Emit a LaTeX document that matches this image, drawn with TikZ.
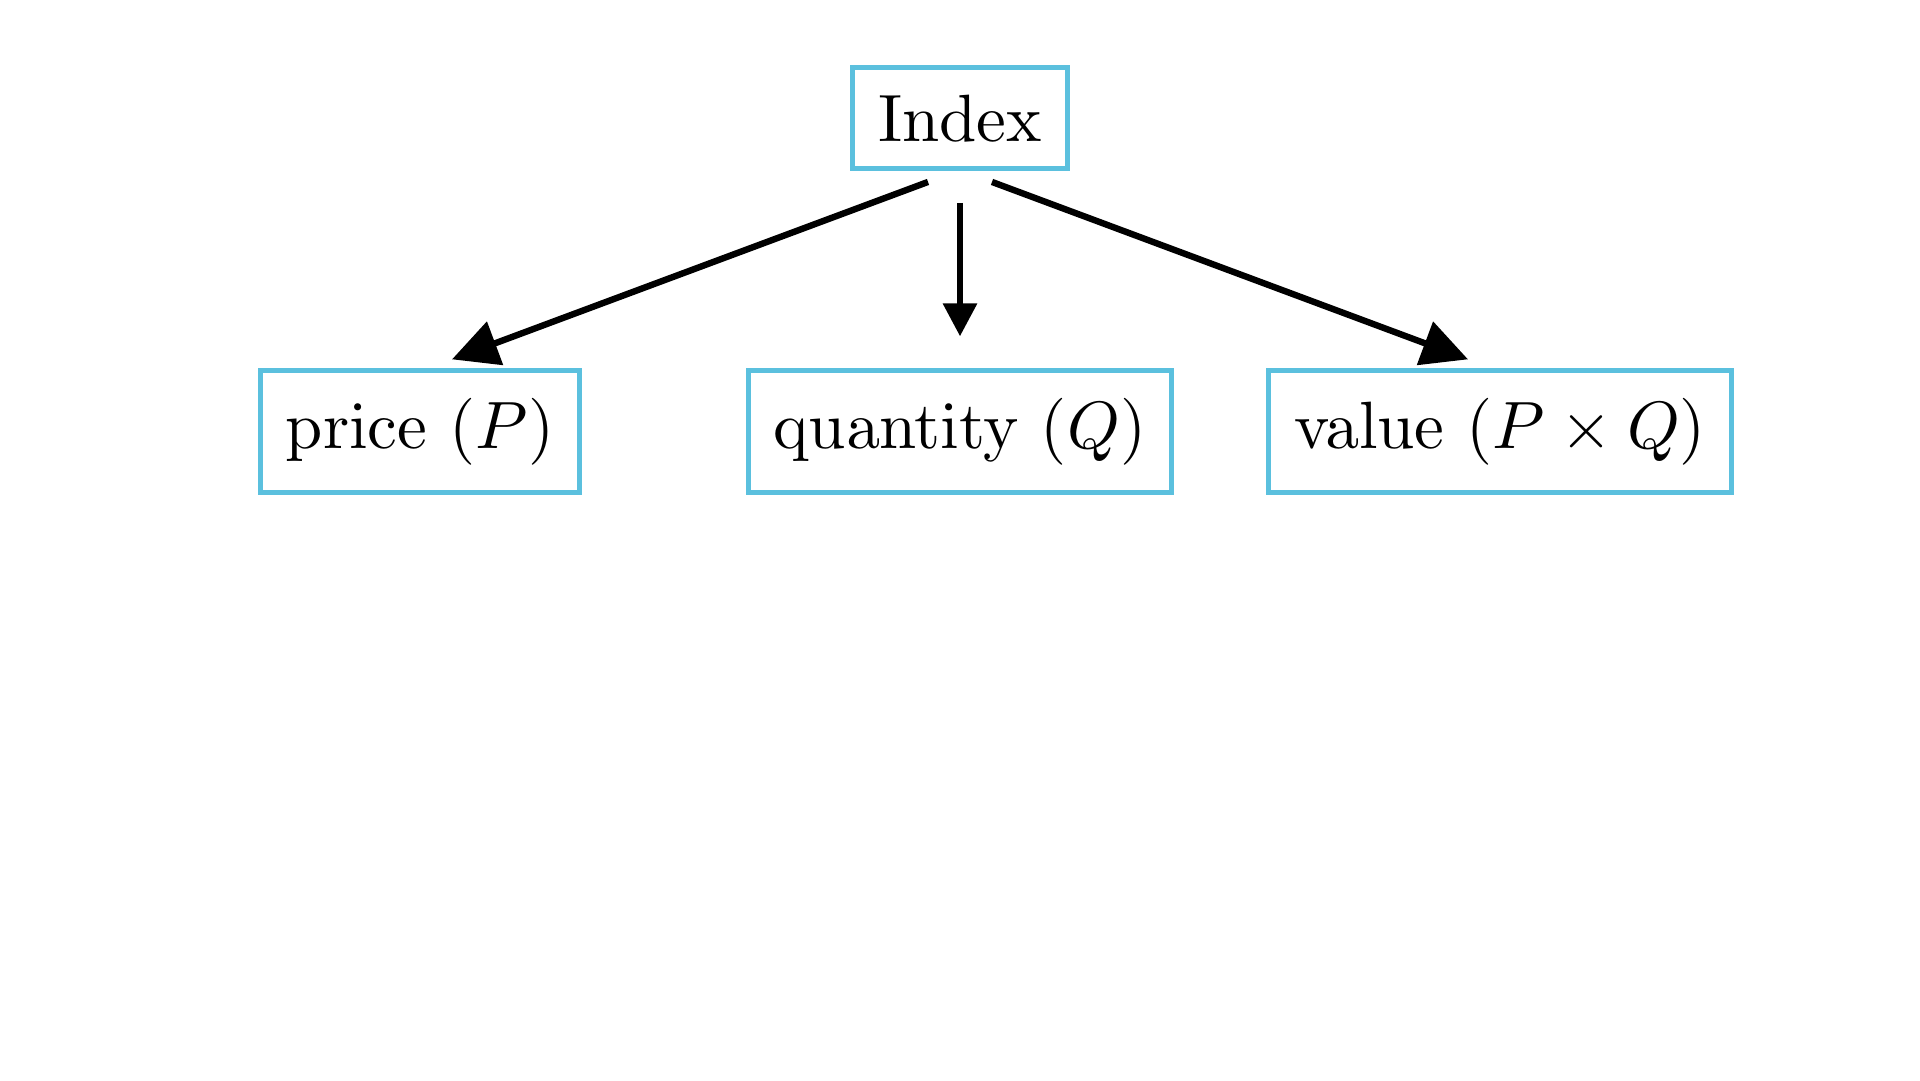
\RequirePackage{fix-cm}
\documentclass[tikz,border=0pt]{standalone}
\usepackage[OT1]{fontenc}
\usetikzlibrary{arrows.meta,calc}
\DeclareFontShape{OT1}{cmr}{m}{n}{<-> cmr10}{}
\DeclareFontShape{OML}{cmm}{m}{it}{<-> cmmi10}{}
\DeclareFontShape{OMS}{cmsy}{m}{n}{<-> cmsy10}{}
\renewcommand{\rmdefault}{cmr}
\definecolor{infoblue}{RGB}{91,192,222}

\tikzset{every picture/.style={line width=0.75pt}}
\tikzset{
  box/.style={draw=infoblue, line width=1.875pt, inner xsep=9.6pt, inner ysep=10.2pt, font=\fontsize{25.1}{30}\selectfont},
  bigarrow/.style={line width=2.4pt, -{Triangle[length=17.25pt,width=16.9pt]}},
  smallarrow/.style={line width=2.4pt, -{Triangle[length=12.4pt,width=12.4pt]}}
}

\begin{document}
\begin{tikzpicture}[x=0.375pt,y=0.375pt,yscale=-1,xscale=1]
%set diagram left start at 0, and has height of 1080
\path [use as bounding box] (0,0) rectangle (1920,1080);

% Text Node
\node [box] (index) at (960,118) {Index};
% Text Node
\node [box] (price) at (420,431.5) {price ($P$)};
% Text Node
\node [box] (qty) at (960,431.5) {quantity ($Q$)};
% Text Node
\node [box] (value) at (1500,431.5) {value ($P\times Q$)};

%Straight Lines
\draw [bigarrow] ($(index.south)+(-32,11)$) -- ($(price.north)+(32,-9)$);
%Straight Lines
\draw [smallarrow] ($(index.south)+(0,32)$) -- ($(qty.north)+(0,-32)$);
%Straight Lines
\draw [bigarrow] ($(index.south)+(32,11)$) -- ($(value.north)+(-32,-9)$);

\end{tikzpicture}
\end{document}
